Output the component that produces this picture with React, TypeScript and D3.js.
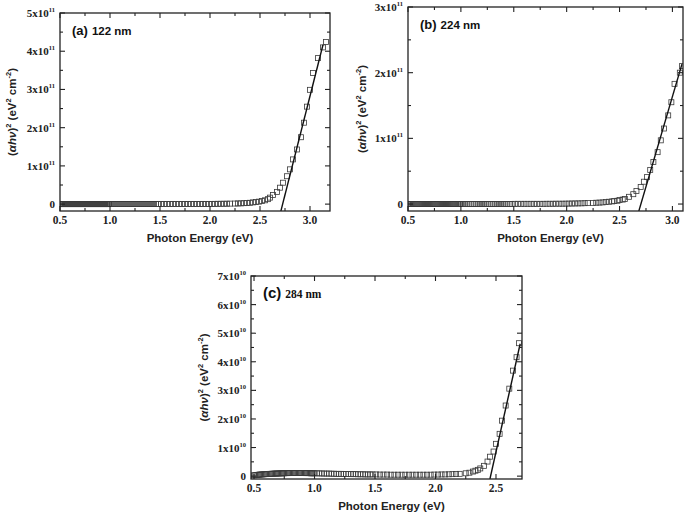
import React from 'react';
import * as d3 from 'd3';

// shared photon-energy grid of the flat (sub-gap) part, eV (dense at low energy)
const lowEnergy = [
  0.5, 0.51, 0.52, 0.53, 0.54, 0.55, 0.56, 0.57, 0.58, 0.59,
  0.6, 0.61, 0.62, 0.63, 0.64, 0.65, 0.66, 0.67, 0.68, 0.69,
  0.7, 0.71, 0.72, 0.73, 0.74, 0.75, 0.76, 0.77, 0.78, 0.79,
  0.8, 0.81, 0.82, 0.83, 0.84, 0.85, 0.86, 0.87, 0.88, 0.89,
  0.9, 0.91, 0.92, 0.93, 0.94, 0.95, 0.96, 0.97, 0.98, 0.99,
  1.0, 1.02, 1.04, 1.06, 1.08, 1.1, 1.12, 1.14, 1.16, 1.18,
  1.2, 1.22, 1.24, 1.26, 1.28, 1.3, 1.32, 1.34, 1.36, 1.38,
  1.4, 1.42, 1.44, 1.46, 1.48,
  1.51, 1.54, 1.57, 1.6, 1.63, 1.66, 1.69, 1.72, 1.75, 1.78,
  1.81, 1.84, 1.87, 1.9, 1.93, 1.96, 1.99, 2.02, 2.05, 2.08,
  2.11, 2.14, 2.17, 2.2,
];

// (a) 122 nm, units of 1e11
const lowA = [
  0, 0, 0, 0, 0, 0, 0, 0, 0, 0,
  0, 0, 0, 0, 0, 0, 0, 0, 0, 0,
  0, 0, 0, 0, 0, 0, 0, 0, 0, 0,
  0, 0, 0, 0, 0, 0, 0, 0, 0, 0,
  0, 0, 0, 0, 0, 0, 0, 0, 0, 0,
  0.002, 0.002, 0.002, 0.002, 0.002, 0.002, 0.002, 0.002, 0.002, 0.002,
  0.002, 0.002, 0.002, 0.002, 0.002, 0.002, 0.002, 0.002, 0.002, 0.002,
  0.002, 0.002, 0.002, 0.002, 0.002,
  0.003, 0.003, 0.003, 0.003, 0.003, 0.003, 0.003, 0.003, 0.003, 0.003,
  0.004, 0.004, 0.004, 0.004, 0.004, 0.004, 0.005, 0.006, 0.007, 0.008,
  0.009, 0.01, 0.011, 0.013,
];
const riseEnergyA = [2.25, 2.28, 2.31, 2.34, 2.37, 2.4, 2.43, 2.46, 2.49, 2.52, 2.55, 2.58, 2.6, 2.63, 2.67, 2.7, 2.73, 2.77, 2.8, 2.83, 2.87, 2.91, 2.94, 2.97, 3.0, 3.03, 3.08, 3.13, 3.16];
const riseA = [0.015, 0.018, 0.02, 0.025, 0.03, 0.035, 0.045, 0.055, 0.065, 0.08, 0.1, 0.13, 0.17, 0.24, 0.32, 0.43, 0.56, 0.73, 0.91, 1.17, 1.43, 1.75, 2.13, 2.55, 2.99, 3.43, 3.82, 4.1, 4.24];
const fitEnergyA = [2.707, 3.13];
const fitA = [-0.2, 4.17];

// (b) 224 nm, units of 1e11
const lowB = [
  0, 0, 0, 0, 0, 0, 0, 0, 0, 0,
  0, 0, 0, 0, 0, 0, 0, 0, 0, 0,
  0, 0, 0, 0, 0, 0, 0, 0, 0, 0,
  0, 0, 0, 0, 0, 0, 0, 0, 0, 0,
  0, 0, 0, 0, 0, 0, 0, 0, 0, 0,
  0.002, 0.002, 0.002, 0.002, 0.002, 0.002, 0.002, 0.002, 0.002, 0.002,
  0.002, 0.002, 0.002, 0.002, 0.002, 0.002, 0.002, 0.002, 0.002, 0.002,
  0.002, 0.002, 0.002, 0.002, 0.002,
  0.003, 0.003, 0.003, 0.003, 0.003, 0.003, 0.003, 0.003, 0.003, 0.003,
  0.004, 0.004, 0.004, 0.005, 0.005, 0.005, 0.006, 0.007, 0.008, 0.009,
  0.01, 0.011, 0.013, 0.015,
];
const riseEnergyB = [2.25, 2.28, 2.31, 2.34, 2.37, 2.4, 2.43, 2.45, 2.48, 2.5, 2.53, 2.55, 2.59, 2.63, 2.66, 2.7, 2.73, 2.76, 2.79, 2.82, 2.86, 2.89, 2.92, 2.96, 2.99, 3.02, 3.07, 3.09];
const riseB = [0.017, 0.02, 0.022, 0.025, 0.03, 0.035, 0.04, 0.045, 0.05, 0.06, 0.068, 0.076, 0.11, 0.15, 0.2, 0.26, 0.34, 0.41, 0.52, 0.64, 0.79, 0.97, 1.15, 1.35, 1.55, 1.83, 2.0, 2.1];
const fitEnergyB = [2.68, 3.09];
const fitB = [-0.12, 2.13];

// (c) 284 nm, units of 1e10
const lowC = [
  0.03, 0.035, 0.04, 0.045, 0.05, 0.055, 0.06, 0.06, 0.065, 0.07,
  0.07, 0.075, 0.075, 0.08, 0.08, 0.085, 0.085, 0.09, 0.09, 0.09,
  0.095, 0.095, 0.1, 0.1, 0.1, 0.1, 0.105, 0.105, 0.105, 0.11,
  0.11, 0.11, 0.11, 0.11, 0.11, 0.11, 0.11, 0.11, 0.11, 0.11,
  0.11, 0.11, 0.11, 0.105, 0.105, 0.105, 0.105, 0.1, 0.1, 0.1,
  0.1, 0.1, 0.095, 0.095, 0.09, 0.09, 0.09, 0.085, 0.085, 0.08,
  0.08, 0.08, 0.075, 0.075, 0.075, 0.07, 0.07, 0.07, 0.065, 0.065,
  0.065, 0.06, 0.06, 0.06, 0.06,
  0.06, 0.055, 0.055, 0.055, 0.05, 0.05, 0.05, 0.05, 0.05, 0.05,
  0.05, 0.05, 0.05, 0.05, 0.05, 0.05, 0.055, 0.055, 0.06, 0.06,
  0.065, 0.07, 0.075, 0.08,
];
const riseEnergyC = [2.25, 2.28, 2.31, 2.33, 2.35, 2.37, 2.4, 2.43, 2.45, 2.48, 2.5, 2.53, 2.55, 2.58, 2.61, 2.64, 2.67, 2.69];
const riseC = [0.1, 0.12, 0.16, 0.19, 0.22, 0.27, 0.36, 0.51, 0.68, 0.86, 1.13, 1.48, 1.94, 2.47, 3.06, 3.69, 4.16, 4.65];
const fitEnergyC = [2.45, 2.7];
const fitC = [-0.1, 4.63];

const xTicksAB = [0.5, 1.0, 1.5, 2.0, 2.5, 3.0];
const xTicksC = [0.5, 1.0, 1.5, 2.0, 2.5];
const yTicksA = [0, 1, 2, 3, 4, 5];
const yTicksB = [0, 1, 2, 3];
const yTicksC = [0, 1, 2, 3, 4, 5, 6, 7];

const SANS = "'Liberation Sans', Arial, sans-serif";
const SERIF = "'Liberation Serif', 'Times New Roman', serif";

type PanelProps = {
  id: string;
  box: [number, number, number, number];
  xDomain: [number, number];
  yDomain: [number, number];
  xTicks: number[];
  yTicks: number[];
  exp: string;
  energy: number[];
  values: number[];
  fitE: number[];
  fitV: number[];
  tag: string;
  tagSize: number;
  sample: string;
  sampleFont: string;
  yTitleX: number;
};

function Panel(p: PanelProps) {
  const [left, right, top, bottom] = p.box;
  const x = d3.scaleLinear().domain(p.xDomain).range([left, right]);
  const y = d3.scaleLinear().domain(p.yDomain).range([bottom, top]);

  const xMinor = d3
    .range(Math.ceil(p.xDomain[0] * 4), Math.floor(p.xDomain[1] * 4 + 1e-6) + 1)
    .map(k => k / 4);
  const yMinor = d3
    .range(Math.ceil(p.yDomain[0] * 2), Math.floor(p.yDomain[1] * 2 + 1e-6) + 1)
    .map(k => k / 2);

  const fitLine = d3.line<number>().x((_, i) => x(p.fitE[i])).y(d => y(d));
  const midY = (top + bottom) / 2;
  const midX = (left + right) / 2;
  const s = 5;

  return (
    <g>
      <defs>
        <clipPath id={`clip-${p.id}`}>
          <rect x={left} y={top} width={right - left} height={bottom - top} />
        </clipPath>
      </defs>
      <g clipPath={`url(#clip-${p.id})`}>
        {p.energy.map((e, i) => (
          <rect
            key={i}
            x={x(e) - s / 2}
            y={y(p.values[i]) - s / 2}
            width={s}
            height={s}
            fill="none"
            stroke="#3a3a3a"
            strokeWidth={0.8}
          />
        ))}
        <path d={fitLine(p.fitV) || ''} fill="none" stroke="#111" strokeWidth={1.4} />
      </g>
      <rect x={left} y={top} width={right - left} height={bottom - top} fill="none" stroke="#222" strokeWidth={1.3} />
      {xMinor.map(v => {
        const major = Math.abs(v * 2 - Math.round(v * 2)) < 1e-6;
        const len = major ? 5 : 3;
        return (
          <g key={`x${v}`} stroke="#222" strokeWidth={1.1}>
            <line x1={x(v)} x2={x(v)} y1={bottom} y2={bottom - len} />
            <line x1={x(v)} x2={x(v)} y1={top} y2={top + len} />
          </g>
        );
      })}
      {yMinor.map(v => {
        const major = Math.abs(v - Math.round(v)) < 1e-6;
        const len = major ? 5 : 3;
        return (
          <g key={`y${v}`} stroke="#222" strokeWidth={1.1}>
            <line x1={left} x2={left + len} y1={y(v)} y2={y(v)} />
            <line x1={right} x2={right - len} y1={y(v)} y2={y(v)} />
          </g>
        );
      })}
      {p.xTicks.map(v => (
        <text
          key={`xl${v}`}
          x={x(v)}
          y={bottom + 13}
          textAnchor="middle"
          fontFamily={SERIF}
          fontWeight="bold"
          fontSize={11.5}
          fill="#222"
        >
          {v.toFixed(1)}
        </text>
      ))}
      {p.yTicks.map(v => (
        <text
          key={`yl${v}`}
          x={left - 5}
          y={y(v) + 4}
          textAnchor="end"
          fontFamily={SERIF}
          fontWeight="bold"
          fontSize={11}
          fill="#222"
        >
          {v === 0 ? (
            '0'
          ) : (
            <>
              <tspan>{`${v}x10`}</tspan>
              <tspan dy={-5} fontSize={6.5}>{p.exp}</tspan>
            </>
          )}
        </text>
      ))}
      <text
        x={midX + 5}
        y={bottom + 31}
        textAnchor="middle"
        fontFamily={SANS}
        fontWeight="bold"
        fontSize={11.5}
        fill="#222"
      >
        Photon Energy (eV)
      </text>
      <text
        transform={`translate(${p.yTitleX},${midY}) rotate(-90)`}
        textAnchor="middle"
        fontFamily={SANS}
        fontWeight="bold"
        fontSize={11.5}
        fill="#222"
      >
        <tspan>(</tspan>
        <tspan fontStyle="italic">αhν</tspan>
        <tspan>)</tspan>
        <tspan dy={-5} fontSize={7.5}>2</tspan>
        <tspan dy={5}> (eV</tspan>
        <tspan dy={-5} fontSize={7.5}>2</tspan>
        <tspan dy={5}> cm</tspan>
        <tspan dy={-5} fontSize={7.5}>-2</tspan>
        <tspan dy={5}>)</tspan>
      </text>
      <text x={left + 12} y={top + 22} fontFamily={SANS} fontWeight="bold" fill="#111">
        <tspan fontSize={p.tagSize}>{p.tag}</tspan>
        <tspan fontFamily={p.sampleFont} fontSize={11.5} dx={4}>{p.sample}</tspan>
      </text>
    </g>
  );
}

export default function App() {
  const energyA = [...lowEnergy, ...riseEnergyA];
  const energyB = [...lowEnergy, ...riseEnergyB];
  const energyC = [...lowEnergy, ...riseEnergyC];
  return (
    <svg
      width={685}
      height={513}
      style={{ position: 'absolute', left: 0, top: 0, background: '#fff' }}
    >
      <Panel
        id="a"
        box={[60, 330, 13, 211]}
        xDomain={[0.5, 3.2]}
        yDomain={[-0.18, 5]}
        xTicks={xTicksAB}
        yTicks={yTicksA}
        exp="11"
        energy={energyA}
        values={[...lowA, ...riseA]}
        fitE={fitEnergyA}
        fitV={fitA}
        tag="(a)"
        tagSize={13}
        sample="122 nm"
        sampleFont={SANS}
        yTitleX={16}
      />
      <Panel
        id="b"
        box={[408, 683, 7, 211]}
        xDomain={[0.5, 3.1]}
        yDomain={[-0.106, 3]}
        xTicks={xTicksAB}
        yTicks={yTicksB}
        exp="11"
        energy={energyB}
        values={[...lowB, ...riseB]}
        fitE={fitEnergyB}
        fitV={fitB}
        tag="(b)"
        tagSize={13}
        sample="224 nm"
        sampleFont={SANS}
        yTitleX={366}
      />
      <Panel
        id="c"
        box={[251, 522, 276, 479]}
        xDomain={[0.475, 2.715]}
        yDomain={[-0.1, 7]}
        xTicks={xTicksC}
        yTicks={yTicksC}
        exp="10"
        energy={energyC}
        values={[...lowC, ...riseC]}
        fitE={fitEnergyC}
        fitV={fitC}
        tag="(c)"
        tagSize={15}
        sample="284 nm"
        sampleFont={SERIF}
        yTitleX={208}
      />
    </svg>
  );
}
